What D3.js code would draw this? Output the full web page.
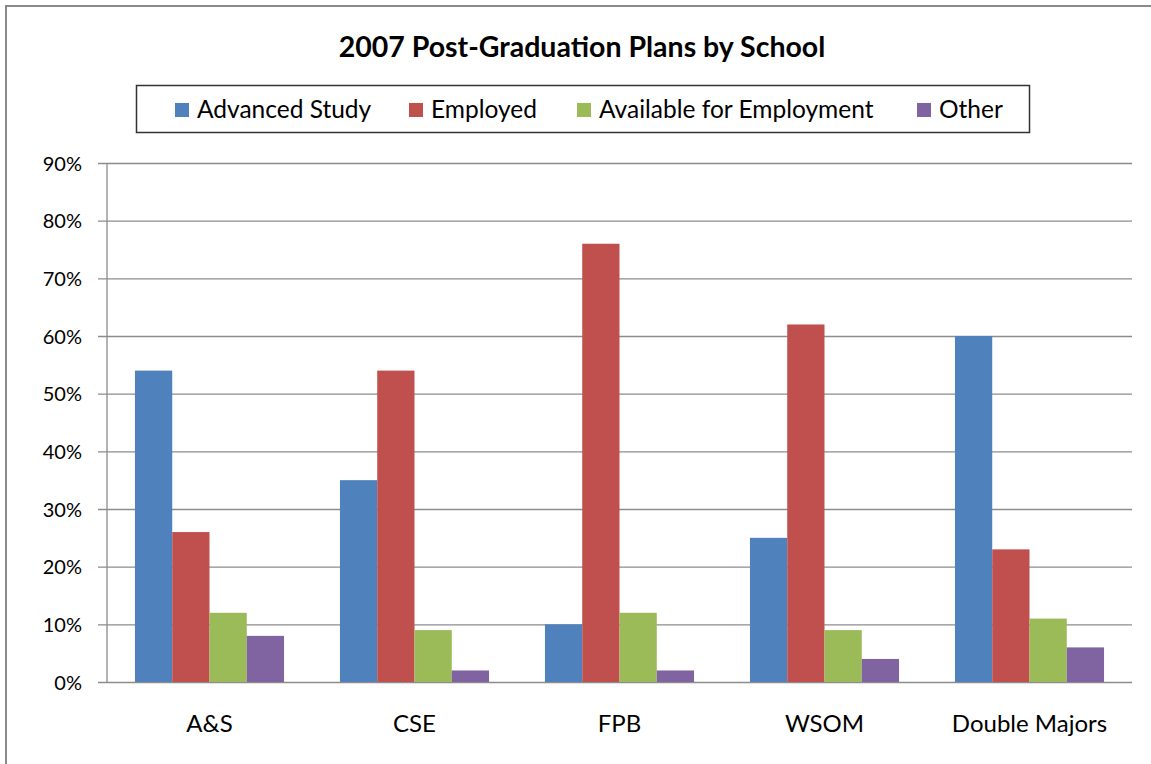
<!DOCTYPE html>
<html>
<head>
<meta charset="utf-8">
<script src="https://cdn.jsdelivr.net/npm/d3@7"></script>
<style>
  body { margin: 0; background: #fff; }
  svg { display: block; }
  text { font-family: Lato, "Open Sans", sans-serif; fill: #000; }
</style>
</head>
<body>
<div id="chart"></div>
<script>
// chart data
const schools = ['A&S', 'CSE', 'FPB', 'WSOM', 'Double Majors'];
const seriesNames = ['Advanced Study', 'Employed', 'Available for Employment', 'Other'];
const seriesColors = ['#4F81BD', '#C0504D', '#9BBB59', '#8064A2'];
const advancedStudy = [54, 35, 10, 25, 60];
const employed = [26, 54, 76, 62, 23];
const availableForEmployment = [12, 9, 12, 9, 11];
const other = [8, 2, 2, 4, 6];
const yTicks = [0, 10, 20, 30, 40, 50, 60, 70, 80, 90];

const seriesValues = [advancedStudy, employed, availableForEmployment, other];

const width = 1151, height = 764;
const plot = { left: 107, right: 1132, top: 163, bottom: 682 };

const svg = d3.select('#chart').append('svg')
    .attr('width', width)
    .attr('height', height);

// outer chart frame (only top/left edges visible in crop)
svg.append('path')
    .attr('d', `M6,${height} L6,6 L${width},6`)
    .attr('fill', 'none')
    .attr('stroke', '#8a8a8a')
    .attr('stroke-width', 2);

// title
svg.append('text')
    .attr('x', 582)
    .attr('y', 57)
    .attr('text-anchor', 'middle')
    .attr('font-size', 28.5)
    .attr('font-weight', 'bold')
    .text('2007 Post-Graduation Plans by School');

// scales
const x = d3.scaleBand()
    .domain(schools)
    .range([plot.left, plot.right])
    .paddingInner(0)
    .paddingOuter(0);

const groupWidth = x.bandwidth() * 4 / 5.5; // Excel gap width 150%
const xInner = d3.scaleBand()
    .domain(seriesNames)
    .range([0, groupWidth]);

const y = d3.scaleLinear()
    .domain([0, 90])
    .range([plot.bottom, plot.top]);

// gridlines + y axis
const yAxis = d3.axisLeft(y)
    .tickValues(yTicks)
    .tickSize(-(plot.right - plot.left))
    .tickFormat(d => d + '%');

const yg = svg.append('g')
    .attr('transform', `translate(${plot.left},0)`)
    .call(yAxis);
yg.select('.domain').remove();
yg.selectAll('.tick line')
    .attr('x1', -9)
    .attr('stroke', '#8c8c8c')
    .attr('stroke-width', 1.3);
yg.selectAll('.tick text')
    .attr('x', -25)
    .attr('dy', '0.35em')
    .attr('font-size', 20)
    .attr('font-family', 'Lato, sans-serif')
    .attr('fill', '#000');

// vertical axis line
svg.append('line')
    .attr('x1', plot.left).attr('x2', plot.left)
    .attr('y1', plot.top).attr('y2', plot.bottom)
    .attr('stroke', '#8c8c8c')
    .attr('stroke-width', 1.3);

// bars
const groups = svg.append('g').attr('class', 'bars')
    .selectAll('g')
    .data(schools)
    .enter()
    .append('g')
    .attr('transform', d => `translate(${x(d) + (x.bandwidth() - groupWidth) / 2},0)`);

groups.selectAll('rect')
    .data((d, i) => seriesNames.map((s, j) => ({ series: s, color: seriesColors[j], value: seriesValues[j][i] })))
    .enter()
    .append('rect')
    .attr('x', d => xInner(d.series))
    .attr('width', xInner.bandwidth())
    .attr('y', d => y(d.value))
    .attr('height', d => y(0) - y(d.value))
    .attr('fill', d => d.color);

// x axis labels
const xAxis = d3.axisBottom(x).tickSize(0);
const xg = svg.append('g')
    .attr('transform', `translate(0,${plot.bottom})`)
    .call(xAxis);
xg.select('.domain').remove();
xg.selectAll('.tick text')
    .attr('y', 50)
    .attr('dy', 0)
    .attr('font-size', 24)
    .attr('font-family', 'Lato, sans-serif')
    .attr('fill', '#000');

// legend
const legend = svg.append('g').attr('class', 'legend');
legend.append('rect')
    .attr('x', 136.5).attr('y', 85.5)
    .attr('width', 893).attr('height', 47)
    .attr('fill', '#fff')
    .attr('stroke', '#333')
    .attr('stroke-width', 1.5);

const legendX = [175, 409, 577, 917];
seriesNames.forEach((name, i) => {
    const item = legend.append('g').attr('transform', `translate(${legendX[i]},103)`);
    item.append('rect')
        .attr('width', 14).attr('height', 14)
        .attr('fill', seriesColors[i]);
    item.append('text')
        .attr('x', 22).attr('y', 15)
        .attr('font-size', 24.5)
        .text(name);
});
</script>
</body>
</html>
